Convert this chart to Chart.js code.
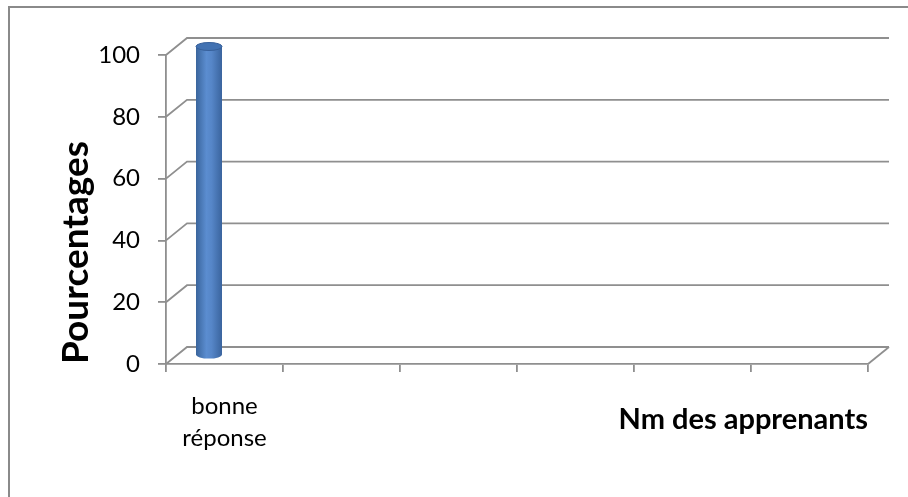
<!DOCTYPE html>
<html>
<head>
<meta charset="utf-8">
<script src="https://cdn.jsdelivr.net/npm/chart.js@4/dist/chart.umd.min.js"></script>
<style>
  html, body { margin: 0; padding: 0; background: #fff; }
  #wrap { position: relative; width: 908px; height: 497px; }
</style>
</head>
<body>
<div id="wrap"><canvas id="chart"></canvas></div>
<script>
  const categories = [['bonne', 'réponse'], '', '', '', '', ''];
  const serie1 = [100, null, null, null, null, null];
  const serie2 = [null, null, null, null, null, null];
  const serie3 = [null, null, null, null, null, null];
  const yTitle = 'Pourcentages';
  const xTitle = 'Nm des apprenants';

  const gridColor = '#8f8f8f';
  const depth = { dx: 21, dy: 17 };

  // faux 3D : murs du fond, diagonales, cadre, et barre cylindrique
  const walls3d = {
    id: 'walls3d',
    beforeDraw(chart) {
      const { ctx } = chart;
      ctx.save();
      ctx.strokeStyle = '#8a8a8a';
      ctx.lineWidth = 2;
      ctx.beginPath();
      ctx.moveTo(9, 497);
      ctx.lineTo(9, 7);
      ctx.lineTo(908, 7);
      ctx.stroke();
      ctx.restore();
    },
    beforeDatasetsDraw(chart) {
      const { ctx, chartArea: a, scales: { y } } = chart;
      ctx.save();
      ctx.strokeStyle = gridColor;
      ctx.lineWidth = 1.8;
      y.ticks.forEach(t => {
        const py = y.getPixelForValue(t.value);
        ctx.beginPath();
        ctx.moveTo(a.left, py);
        ctx.lineTo(a.left + depth.dx, py - depth.dy);
        ctx.lineTo(a.right + depth.dx, py - depth.dy);
        ctx.stroke();
      });
      ctx.beginPath();
      ctx.moveTo(a.right, a.bottom);
      ctx.lineTo(a.right + depth.dx, a.bottom - depth.dy);
      ctx.stroke();
      ctx.restore();

      ctx.save();
      ctx.translate(depth.dx / 2, -depth.dy / 2);
    },
    afterDatasetsDraw(chart) {
      const { ctx } = chart;
      chart.data.datasets.forEach((ds, i) => {
        chart.getDatasetMeta(i).data.forEach((bar, j) => {
          if (ds.data[j] == null) return;
          const { x, y, base, width } = bar.getProps(['x', 'y', 'base', 'width'], true);
          const l = x - width / 2, r = x + width / 2, ry = 4;
          const g = ctx.createLinearGradient(l, 0, r, 0);
          g.addColorStop(0, '#3a659c');
          g.addColorStop(0.4, '#5b8dd0');
          g.addColorStop(0.6, '#5686c8');
          g.addColorStop(1, '#3a649e');
          ctx.fillStyle = g;
          ctx.beginPath();
          ctx.moveTo(l, y);
          ctx.lineTo(l, base);
          ctx.ellipse(x, base, width / 2, ry, 0, Math.PI, 0, true);
          ctx.lineTo(r, y);
          ctx.closePath();
          ctx.fill();
          ctx.fillStyle = '#4272b2';
          ctx.strokeStyle = '#37609a';
          ctx.lineWidth = 1;
          ctx.beginPath();
          ctx.ellipse(x, y, width / 2, ry, 0, 0, Math.PI * 2);
          ctx.fill();
          ctx.stroke();
        });
      });
      ctx.restore();
    }
  };

  const barOpts = { barPercentage: 1, categoryPercentage: 3 / 4.5, backgroundColor: 'rgba(0,0,0,0)', clip: false };

  new Chart(document.getElementById('chart'), {
    type: 'bar',
    data: {
      labels: categories,
      datasets: [
        { label: 'Série 1', data: serie1, ...barOpts },
        { label: 'Série 2', data: serie2, ...barOpts },
        { label: 'Série 3', data: serie3, ...barOpts }
      ]
    },
    options: {
      responsive: true,
      maintainAspectRatio: false,
      animation: false,
      layout: { padding: { top: 55, right: 40, left: 0, bottom: 0 } },
      plugins: { legend: { display: false }, tooltip: { enabled: false } },
      scales: {
        x: {
          afterFit(s) { s.height = 133; },
          grid: { drawOnChartArea: false, offset: true, tickLength: 8, color: gridColor, lineWidth: 1.8 },
          border: { color: gridColor, width: 1.8 },
          ticks: {
            autoSkip: false, maxRotation: 0, padding: 19, color: '#000',
            font: { family: 'Lato', size: 24, lineHeight: 1.3 }
          },
          title: {
            display: true, text: xTitle, align: 'end', color: '#000',
            font: { family: 'Lato', size: 29, weight: 'bold', lineHeight: 1.2 },
            padding: { top: 0, bottom: 60 }
          }
        },
        y: {
          min: 0, max: 100,
          afterFit(s) { s.width = 166; },
          grid: { drawOnChartArea: false, tickLength: 8, color: gridColor, lineWidth: 1.8 },
          border: { color: gridColor, width: 1.8 },
          ticks: {
            stepSize: 20, padding: 18, color: '#000',
            font: { family: 'Lato', size: 24 }
          },
          title: {
            display: true, text: yTitle, align: 'start', color: '#000',
            font: { family: 'Lato', size: 37, weight: 'bold', lineHeight: 1.2 },
            padding: { top: 54, bottom: 0 }
          }
        }
      }
    },
    plugins: [walls3d]
  });
</script>
</body>
</html>
